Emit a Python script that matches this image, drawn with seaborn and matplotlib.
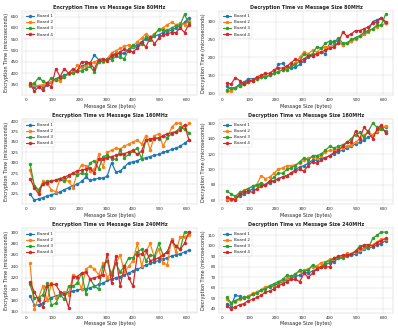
import numpy as np
import pandas as pd
import matplotlib
matplotlib.use("Agg")
import matplotlib.pyplot as plt
import seaborn as sns

sizes = list(range(16, 609, 16))  # 38 message sizes
boards = ["Board 1", "Board 2", "Board 3", "Board 4"]

enc_80_b1 = [350, 340, 345, 340, 350, 360, 375, 385, 390, 400, 405, 410, 430, 440, 445, 480, 460, 455, 460, 470, 490, 485, 490, 505, 515, 525, 540, 550, 560, 565, 570, 580, 585, 590, 600, 610, 625, 645]
enc_80_b2 = [345, 350, 345, 350, 355, 360, 370, 365, 385, 395, 405, 435, 425, 430, 445, 450, 460, 450, 465, 490, 500, 510, 520, 525, 520, 540, 555, 575, 560, 575, 590, 600, 615, 625, 615, 620, 615, 630]
enc_80_b3 = [350, 355, 380, 365, 355, 380, 370, 380, 385, 400, 400, 410, 410, 420, 430, 405, 450, 455, 465, 460, 475, 470, 465, 505, 525, 510, 530, 560, 545, 570, 595, 590, 590, 600, 610, 615, 660, 620]
enc_80_b4 = [355, 320, 340, 325, 355, 340, 420, 385, 420, 400, 420, 410, 450, 450, 445, 420, 460, 465, 455, 480, 480, 495, 505, 500, 495, 510, 540, 515, 560, 530, 555, 570, 575, 580, 580, 600, 580, 615]

dec_80_b1 = [120, 110, 115, 125, 130, 140, 140, 140, 145, 145, 150, 155, 180, 183, 170, 170, 172, 180, 190, 200, 205, 210, 215, 210, 240, 245, 245, 235, 240, 245, 255, 260, 265, 275, 300, 305, 310, 295]
dec_80_b2 = [105, 105, 115, 120, 125, 130, 135, 140, 145, 150, 150, 155, 160, 165, 170, 175, 185, 200, 215, 210, 220, 215, 225, 230, 230, 235, 240, 235, 240, 245, 250, 260, 265, 270, 280, 285, 290, 295]
dec_80_b3 = [110, 115, 115, 120, 125, 130, 135, 140, 145, 145, 150, 155, 160, 165, 165, 175, 180, 190, 210, 205, 210, 230, 225, 240, 245, 240, 255, 240, 240, 250, 255, 260, 270, 275, 280, 290, 290, 320]
dec_80_b4 = [128, 125, 143, 135, 125, 135, 135, 145, 150, 155, 155, 165, 170, 170, 175, 185, 195, 190, 195, 205, 205, 210, 215, 220, 225, 230, 240, 270, 260, 265, 275, 275, 280, 285, 295, 300, 310, 300]

enc_160_b1 = [225, 210, 213, 216, 220, 223, 226, 230, 235, 240, 245, 248, 255, 265, 258, 260, 263, 263, 268, 300, 278, 280, 290, 300, 302, 305, 310, 312, 315, 318, 320, 325, 328, 332, 335, 340, 347, 355]
enc_160_b2 = [282, 245, 230, 255, 250, 235, 230, 262, 260, 255, 240, 275, 295, 293, 280, 285, 320, 290, 325, 330, 335, 333, 340, 345, 350, 355, 345, 365, 330, 365, 370, 340, 360, 385, 395, 395, 380, 395]
enc_160_b3 = [298, 245, 235, 250, 255, 257, 258, 262, 255, 268, 275, 270, 275, 272, 300, 305, 285, 315, 318, 310, 308, 330, 312, 320, 328, 335, 310, 355, 355, 360, 358, 365, 360, 370, 375, 385, 380, 372]
enc_160_b4 = [262, 240, 225, 250, 252, 255, 258, 262, 265, 270, 275, 280, 282, 285, 287, 275, 310, 310, 312, 315, 318, 320, 322, 326, 330, 320, 328, 355, 358, 358, 360, 365, 370, 372, 375, 378, 392, 355]

dec_160_b1 = [60, 62, 62, 65, 68, 70, 75, 80, 80, 80, 82, 85, 88, 90, 92, 95, 100, 103, 105, 108, 112, 112, 115, 115, 118, 120, 123, 125, 128, 130, 133, 135, 138, 142, 145, 148, 155, 155]
dec_160_b2 = [62, 60, 62, 68, 73, 75, 78, 80, 92, 88, 90, 95, 100, 102, 105, 105, 106, 108, 112, 115, 116, 115, 118, 122, 125, 125, 127, 128, 130, 132, 135, 140, 145, 148, 145, 150, 152, 157]
dec_160_b3 = [72, 68, 65, 70, 72, 75, 78, 80, 82, 80, 85, 90, 95, 95, 100, 102, 105, 110, 115, 112, 118, 118, 120, 125, 130, 128, 130, 132, 135, 140, 145, 148, 142, 150, 160, 155, 152, 150]
dec_160_b4 = [64, 62, 60, 68, 70, 72, 70, 75, 78, 80, 85, 85, 88, 90, 92, 95, 98, 100, 98, 105, 110, 108, 112, 115, 118, 122, 125, 130, 135, 135, 150, 140, 155, 148, 140, 152, 158, 147]

enc_240_b1 = [188, 172, 172, 175, 180, 185, 188, 190, 192, 195, 196, 198, 200, 200, 202, 205, 208, 210, 215, 217, 220, 222, 225, 228, 232, 235, 238, 242, 245, 248, 250, 252, 255, 258, 260, 262, 265, 268]
enc_240_b2 = [245, 165, 185, 205, 180, 210, 185, 190, 195, 190, 225, 220, 200, 235, 240, 235, 225, 245, 220, 230, 245, 260, 230, 240, 250, 280, 240, 265, 280, 255, 270, 245, 243, 288, 265, 292, 292, 295]
enc_240_b3 = [208, 185, 185, 190, 210, 172, 175, 190, 182, 205, 205, 210, 228, 192, 218, 205, 200, 240, 250, 225, 245, 230, 240, 255, 255, 265, 270, 250, 260, 258, 280, 260, 265, 285, 275, 270, 300, 300]
enc_240_b4 = [212, 195, 180, 168, 205, 208, 208, 195, 192, 167, 222, 222, 228, 230, 218, 220, 222, 225, 262, 210, 258, 205, 240, 220, 205, 260, 262, 268, 250, 252, 255, 260, 265, 285, 275, 270, 280, 300]

dec_240_b1 = [45, 43, 53, 52, 50, 52, 54, 56, 58, 60, 61, 62, 64, 66, 68, 69, 71, 72, 75, 74, 76, 78, 80, 82, 84, 85, 88, 89, 90, 91, 92, 94, 97, 98, 99, 101, 102, 105]
dec_240_b2 = [49, 45, 47, 49, 51, 52, 55, 56, 58, 61, 62, 63, 65, 67, 69, 71, 73, 76, 77, 78, 80, 81, 84, 85, 87, 88, 89, 90, 93, 92, 94, 96, 98, 99, 101, 104, 106, 106]
dec_240_b3 = [51, 46, 48, 50, 51, 51, 54, 55, 58, 59, 62, 64, 66, 68, 72, 71, 73, 77, 76, 77, 82, 79, 80, 84, 86, 88, 89, 88, 91, 92, 95, 100, 100, 98, 107, 110, 113, 113]
dec_240_b4 = [43, 40, 42, 44, 45, 48, 49, 51, 53, 56, 57, 59, 62, 64, 66, 68, 68, 66, 74, 70, 74, 78, 80, 80, 80, 88, 90, 91, 91, 92, 95, 98, 101, 101, 100, 103, 105, 107]

panels = [
    ("Encryption Time vs Message Size 80MHz", "Encryption Time (microseconds)", [enc_80_b1, enc_80_b2, enc_80_b3, enc_80_b4]),
    ("Decryption Time vs Message Size 80MHz", "Decryption Time (microseconds)", [dec_80_b1, dec_80_b2, dec_80_b3, dec_80_b4]),
    ("Encryption Time vs Message Size 160MHz", "Encryption Time (microseconds)", [enc_160_b1, enc_160_b2, enc_160_b3, enc_160_b4]),
    ("Decryption Time vs Message Size 160MHz", "Decryption Time (microseconds)", [dec_160_b1, dec_160_b2, dec_160_b3, dec_160_b4]),
    ("Encryption Time vs Message Size 240MHz", "Encryption Time (microseconds)", [enc_240_b1, enc_240_b2, enc_240_b3, enc_240_b4]),
    ("Decryption Time vs Message Size 240MHz", "Decryption Time (microseconds)", [dec_240_b1, dec_240_b2, dec_240_b3, dec_240_b4]),
]

sns.set_theme(style="whitegrid")
palette = sns.color_palette("tab10", 4)

fig, axes = plt.subplots(3, 2, figsize=(15.92, 13.24), dpi=25)
for ax, (title, ylabel, series) in zip(axes.flat, panels):
    rows = []
    for b, vals in zip(boards, series):
        for s, v in zip(sizes, vals):
            rows.append({"Message Size (bytes)": s, "Time": v, "Board": b})
    df = pd.DataFrame(rows)
    sns.lineplot(data=df, x="Message Size (bytes)", y="Time", hue="Board",
                 palette=palette, marker="o", markersize=10, markeredgewidth=0,
                 linewidth=3.5, ax=ax)
    ax.set_title(title, fontsize=14, fontweight="bold")
    ax.set_xlabel("Message Size (bytes)", fontsize=14)
    ax.set_ylabel(ylabel, fontsize=14)
    ax.tick_params(labelsize=12)
    ax.legend(loc="upper left", fontsize=12, title=None)

fig.tight_layout()
fig.savefig("out.png", dpi=25)
